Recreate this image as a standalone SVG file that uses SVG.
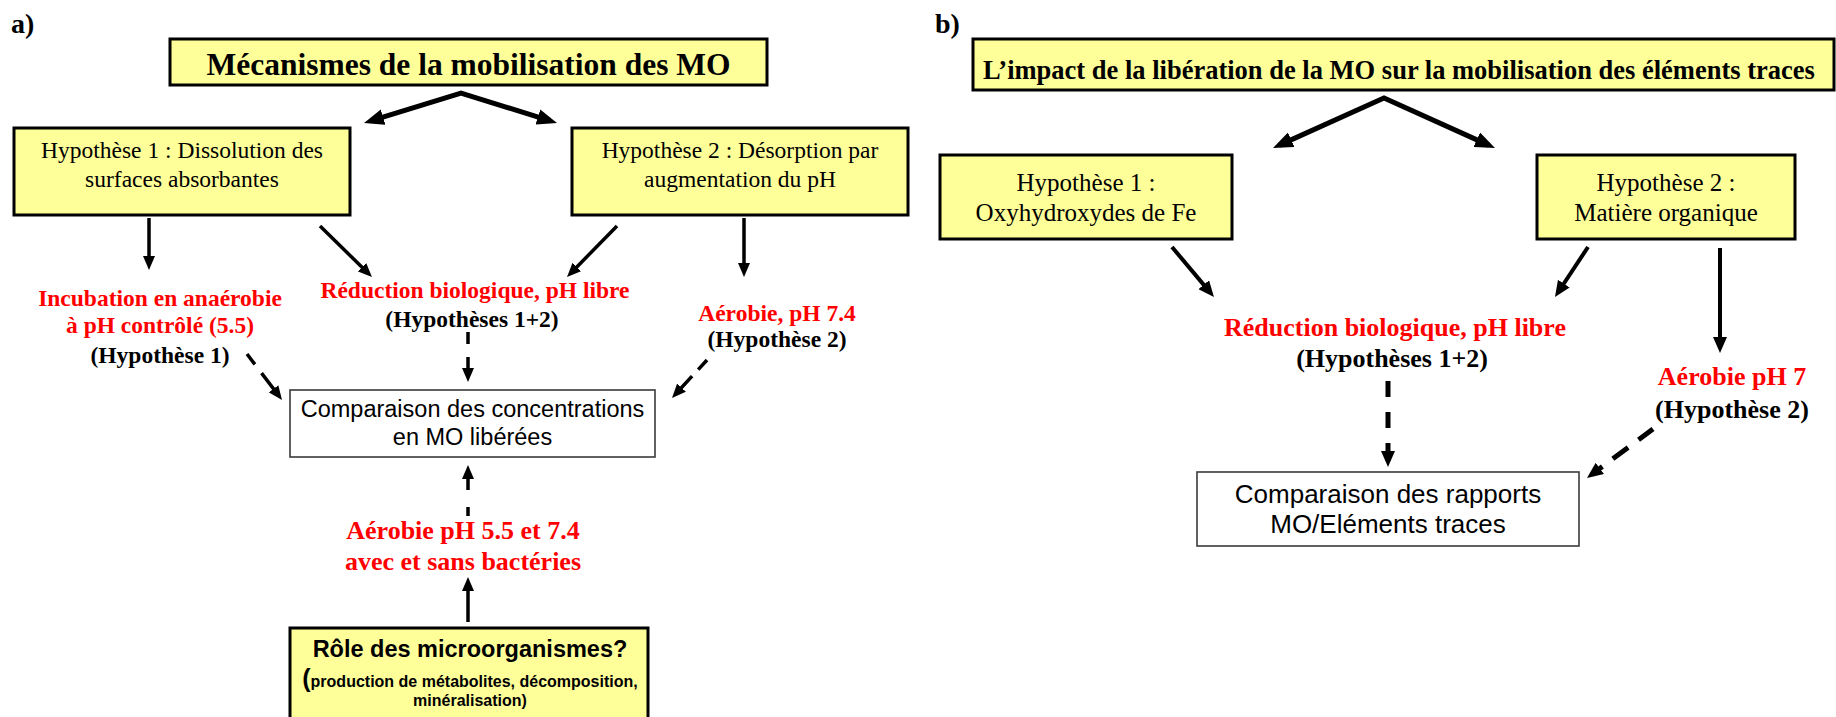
<svg xmlns="http://www.w3.org/2000/svg" width="1836" height="717" viewBox="0 0 1836 717">
<style>
.ybox{fill:#FFFF99;stroke:#000;stroke-width:3}
.wbox{fill:#fff;stroke:#3a3a3a;stroke-width:1.6}
.serif{font-family:"Liberation Serif","Times New Roman",serif}
.sans{font-family:"Liberation Sans",Arial,sans-serif}
.b{font-weight:bold}
.red{fill:#FF0000}
.blk{fill:#000}
text{text-anchor:middle}
.lab{text-anchor:start}
.con{fill:none;stroke:#000}
.sa{stroke-width:3.5;marker-end:url(#headS)}
.sb{stroke-width:4;marker-end:url(#headM)}
.da{stroke-width:3.5;marker-end:url(#headS)}
.db{stroke-width:5;marker-end:url(#headM)}
.top{stroke-width:5;stroke-linejoin:miter;marker-start:url(#headL);marker-end:url(#headL)}
</style>
<defs>
<marker id="headS" markerUnits="userSpaceOnUse" markerWidth="14" markerHeight="12" refX="9" refY="6" orient="auto"><path d="M0,0 L14,6 L0,12 z" fill="#000"/></marker>
<marker id="headM" markerUnits="userSpaceOnUse" markerWidth="16" markerHeight="14" refX="10" refY="7" orient="auto"><path d="M0,0 L16,7 L0,14 z" fill="#000"/></marker>
<marker id="headL" markerUnits="userSpaceOnUse" markerWidth="20" markerHeight="16" refX="13" refY="8" orient="auto-start-reverse"><path d="M0,0 L20,8 L0,16 z" fill="#000"/></marker>
</defs>
<rect width="1836" height="717" fill="#fff"/>

<!-- Panel labels -->
<text class="serif b lab" x="11" y="33" font-size="28">a)</text>
<text class="serif b lab" x="935" y="33" font-size="28">b)</text>

<!-- Panel a nodes -->
<g id="a-title">
<rect class="ybox" x="170" y="39" width="597" height="46"/>
<text class="serif b" x="468.5" y="75" font-size="31.5">Mécanismes de la mobilisation des MO</text>
</g>
<g id="a-hyp1">
<rect class="ybox" x="14" y="128" width="336" height="87"/>
<text class="serif" x="182" y="158" font-size="23.5">Hypothèse 1 : Dissolution des</text>
<text class="serif" x="182" y="187" font-size="23.5">surfaces absorbantes</text>
</g>
<g id="a-hyp2">
<rect class="ybox" x="572" y="128" width="336" height="87"/>
<text class="serif" x="740" y="158" font-size="23.5">Hypothèse 2 : Désorption par</text>
<text class="serif" x="740" y="187" font-size="23.5">augmentation du pH</text>
</g>
<g id="a-incubation">
<text class="serif b red" x="160" y="306" font-size="23.5">Incubation en anaérobie</text>
<text class="serif b red" x="160" y="333" font-size="23.5">à pH contrôlé (5.5)</text>
<text class="serif b blk" x="160" y="363" font-size="23.5">(Hypothèse 1)</text>
</g>
<g id="a-reduction">
<text class="serif b red" x="475" y="298" font-size="23.5">Réduction biologique, pH libre</text>
<text class="serif b blk" x="472" y="327" font-size="23.5">(Hypothèses 1+2)</text>
</g>
<g id="a-aerobie74">
<text class="serif b red" x="777" y="321" font-size="23.5">Aérobie, pH 7.4</text>
<text class="serif b blk" x="777" y="347" font-size="23.5">(Hypothèse 2)</text>
</g>
<g id="a-comparaison">
<rect class="wbox" x="290" y="390" width="365" height="67"/>
<text class="sans" x="472.5" y="417" font-size="23.5">Comparaison des concentrations</text>
<text class="sans" x="472.5" y="445" font-size="23.5">en MO libérées</text>
</g>
<g id="a-aerobie55">
<text class="serif b red" x="463" y="539" font-size="26">Aérobie pH 5.5 et 7.4</text>
<text class="serif b red" x="463" y="570" font-size="26">avec et sans bactéries</text>
</g>
<g id="a-role">
<rect class="ybox" x="290" y="628" width="358" height="100"/>
<text class="sans b" x="470" y="657" font-size="23.5">Rôle des microorganismes?</text>
<text class="sans b" x="470" y="687" font-size="16"><tspan font-size="25">(</tspan>production de métabolites, décomposition,</text>
<text class="sans b" x="470" y="706" font-size="16">minéralisation)</text>
</g>

<!-- Panel b nodes -->
<g id="b-title">
<rect class="ybox" x="973" y="39" width="861" height="51"/>
<text class="serif b" x="1399" y="79" font-size="26.5">L’impact de la libération de la MO sur la mobilisation des éléments traces</text>
</g>
<g id="b-hyp1">
<rect class="ybox" x="940" y="155" width="292" height="84"/>
<text class="serif" x="1086" y="191" font-size="25">Hypothèse 1 :</text>
<text class="serif" x="1086" y="221" font-size="25">Oxyhydroxydes de Fe</text>
</g>
<g id="b-hyp2">
<rect class="ybox" x="1537" y="155" width="258" height="84"/>
<text class="serif" x="1666" y="191" font-size="25">Hypothèse 2 :</text>
<text class="serif" x="1666" y="221" font-size="25">Matière organique</text>
</g>
<g id="b-reduction">
<text class="serif b red" x="1395" y="336" font-size="26">Réduction biologique, pH libre</text>
<text class="serif b blk" x="1392" y="367" font-size="26">(Hypothèses 1+2)</text>
</g>
<g id="b-aerobie7">
<text class="serif b red" x="1732" y="385" font-size="26">Aérobie pH 7</text>
<text class="serif b blk" x="1732" y="418" font-size="26">(Hypothèse 2)</text>
</g>
<g id="b-comparaison">
<rect class="wbox" x="1197" y="472" width="382" height="74"/>
<text class="sans" x="1388" y="503" font-size="26">Comparaison des rapports</text>
<text class="sans" x="1388" y="533" font-size="26">MO/Eléments traces</text>
</g>

<!-- Connectors -->
<g id="connectors">
<path class="con top" d="M370.7,120.9 L461,93 L550.3,120.9"/>
<path class="con sa" d="M149,218 L149,265"/>
<path class="con sa" d="M320,226 L368.4,273.5"/>
<path class="con sa" d="M617,226 L570.5,273.4"/>
<path class="con sa" d="M744,218 L744,272"/>
<path class="con sa" d="M468,622 L468,582"/>
<path class="con da" stroke-dasharray="13 11 60" d="M247,354 L279,396"/>
<path class="con da" stroke-dasharray="12 13 60" d="M468,332 L468,377"/>
<path class="con da" stroke-dasharray="13 9 60" d="M707,360 L675.4,394.3"/>
<path class="con da" stroke-dasharray="9 17 60" d="M468,516 L468,470"/>

<path class="con top" d="M1279.4,145.1 L1384,98 L1488.6,145.1"/>
<path class="con sb" d="M1172,247 L1210.1,292.4"/>
<path class="con sb" d="M1588,247 L1558.3,292"/>
<path class="con sb" d="M1720,248 L1720,347"/>
<path class="con db" stroke-dasharray="16 15 16 15 60" d="M1388,381 L1388,461"/>
<path class="con db" stroke-dasharray="18 13 19 13 60" d="M1653,429 L1591.8,474.4"/>
</g>
</svg>
